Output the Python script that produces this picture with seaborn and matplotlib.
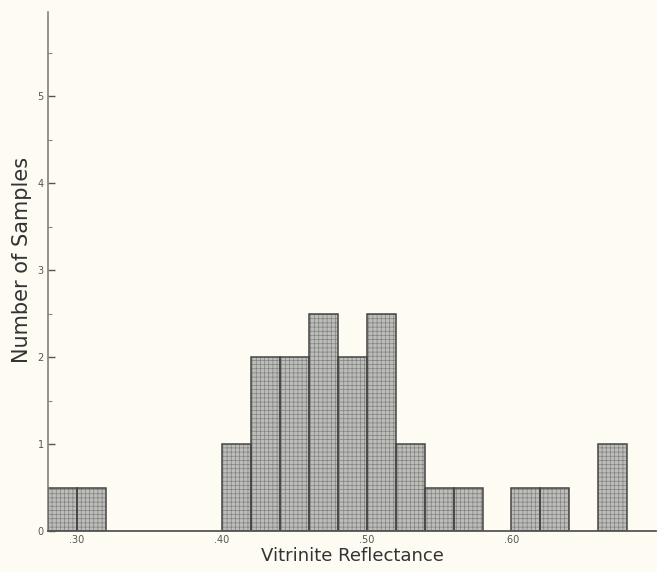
import numpy as np
import matplotlib
matplotlib.use('Agg')
import matplotlib.pyplot as plt
import seaborn as sns

# vitrinite reflectance bins (0.02 wide) and sample counts
bin_edges = [0.28, 0.30, 0.32, 0.34, 0.36, 0.38, 0.40, 0.42, 0.44, 0.46, 0.48,
             0.50, 0.52, 0.54, 0.56, 0.58, 0.60, 0.62, 0.64, 0.66, 0.68]
counts = [0.5, 0.5, 0, 0, 0, 0, 1, 2, 2, 2.5, 2, 2.5, 1, 0.5, 0.5, 0, 0.5, 0.5, 0, 1]
x_ticks = [0.30, 0.40, 0.50, 0.60]
x_ticklabels = ['.30', '.40', '.50', '.60']
y_ticks = [0, 1, 2, 3, 4, 5]

paper = '#fdfbf2'
bin_centers = [(a + b) / 2 for a, b in zip(bin_edges[:-1], bin_edges[1:])]

sns.set_style('white')
plt.rcParams['font.family'] = ['DejaVu Sans']
plt.rcParams['hatch.linewidth'] = 0.5

fig = plt.figure(figsize=(6.57, 5.72), dpi=100, facecolor=paper)
ax = fig.add_axes([0.0730, 0.0717, 0.926, 0.907])
ax.set_facecolor(paper)

# fill with the grid screen, then outline on top
sns.histplot(x=bin_centers, weights=counts, bins=bin_edges, ax=ax,
             color='#bdbdba', edgecolor='#828280', linewidth=0, hatch='++++',
             alpha=1)
sns.histplot(x=bin_centers, weights=counts, bins=bin_edges, ax=ax,
             fill=False, color='#454545', linewidth=1.1)

# hide empty bins
for p in ax.patches:
    if p.get_height() == 0:
        p.set_visible(False)

ax.set_xlim(0.28, 0.70)
ax.set_ylim(0, 5.97)
ax.set_xticks(x_ticks)
ax.set_xticklabels(x_ticklabels)
ax.set_yticks(y_ticks)
ax.set_yticks(np.arange(0.5, 6, 1), minor=True)
ax.tick_params(axis='x', length=0, labelsize=7, colors='#555555', pad=3)
ax.tick_params(axis='y', which='major', direction='in', length=5, width=1,
               labelsize=7, colors='#555555', pad=3, left=True)
ax.tick_params(axis='y', which='minor', direction='in', length=3, width=0.8,
               colors='#888888', left=True)

for side in ['top', 'right']:
    ax.spines[side].set_visible(False)
ax.spines['left'].set_color('#777777')
ax.spines['bottom'].set_color('#555555')
ax.spines['left'].set_linewidth(1.1)
ax.spines['bottom'].set_linewidth(1.3)

ax.set_xlabel('Vitrinite Reflectance', fontsize=13, color='#333333', labelpad=1)
ax.set_ylabel('Number of Samples', fontsize=15, color='#333333')
ax.yaxis.set_label_coords(-0.026, 0.522)

fig.savefig('out.png', dpi=100, facecolor=paper)
